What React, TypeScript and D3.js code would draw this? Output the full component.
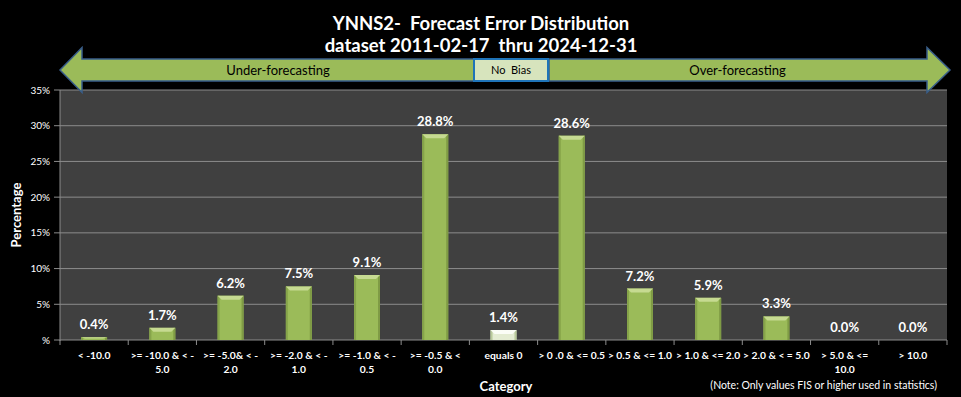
import * as d3 from "d3";

const WIDTH = 961;
const HEIGHT = 397;
const MARGIN = { top: 90, right: 14, bottom: 57, left: 60 };

// category names ("\n" = where the label wraps) and their percentages
const categories = [
  "< -10.0",
  ">= -10.0 & < -\n5.0",
  ">= -5.0& < -\n2.0",
  ">= -2.0 & < -\n1.0",
  ">= -1.0 & < -\n0.5",
  ">= -0.5 & <\n0.0",
  "equals 0",
  "> 0 .0 & <= 0.5",
  "> 0.5 & <= 1.0",
  "> 1.0 & <= 2.0",
  "> 2.0 & < = 5.0",
  "> 5.0 & <=\n10.0",
  "> 10.0",
];
const percentages = [0.4, 1.7, 6.2, 7.5, 9.1, 28.8, 1.4, 28.6, 7.2, 5.9, 3.3, 0.0, 0.0];
const yTicks = [0, 5, 10, 15, 20, 25, 30, 35];
const noBiasCategory = "equals 0";

const titleLines = ["YNNS2-  Forecast Error Distribution", "dataset 2011-02-17  thru 2024-12-31"];

const FONT = "Lato, 'Open Sans', sans-serif";
const GREEN = "#9bbb59";
const OUTLINE = "#385d8a";

// keep the double spaces of the original labels
const keepSpaces = (s: string) => s.replace(/  /g, " \u00a0");

const App = () => {
  const boundsWidth = WIDTH - MARGIN.left - MARGIN.right;
  const boundsHeight = HEIGHT - MARGIN.top - MARGIN.bottom;

  const xScale = d3.scaleBand().domain(categories).range([0, boundsWidth]).paddingInner(0.62).paddingOuter(0.31);
  const yScale = d3.scaleLinear().domain([0, 35]).range([boundsHeight, 0]);

  const step = xScale.step();
  const bw = xScale.bandwidth();

  // band edges for the little tick marks under the axis
  const edges = d3.range(categories.length + 1).map((i) => i * step);

  // arrows banner (drawn in page coordinates)
  const midY = 70;
  const shaftH = 22;
  const headH = 45;
  const leftTip = 60;
  const leftHeadBase = 82;
  const noBiasX0 = 474;
  const noBiasX1 = 548;
  const rightHeadBase = 927;
  const rightTip = 950;

  const leftArrow = [
    [leftTip, midY],
    [leftHeadBase, midY - headH / 2],
    [leftHeadBase, midY - shaftH / 2],
    [noBiasX0, midY - shaftH / 2],
    [noBiasX0, midY + shaftH / 2],
    [leftHeadBase, midY + shaftH / 2],
    [leftHeadBase, midY + headH / 2],
  ];
  const rightArrow = [
    [noBiasX1 + 1, midY - shaftH / 2],
    [rightHeadBase, midY - shaftH / 2],
    [rightHeadBase, midY - headH / 2],
    [rightTip, midY],
    [rightHeadBase, midY + headH / 2],
    [rightHeadBase, midY + shaftH / 2],
    [noBiasX1 + 1, midY + shaftH / 2],
  ];
  const poly = (pts: number[][]) => "M" + pts.map((p) => p.join(",")).join("L") + "Z";

  const bars = categories.map((cat, i) => {
    const v = percentages[i];
    const x = xScale(cat) ?? 0;
    const y = yScale(v);
    const h = boundsHeight - y;
    const pale = cat === noBiasCategory;
    const bevel = Math.min(4, h / 2);
    return (
      <g key={cat}>
        {h > 0.5 && (
          <g>
            <rect x={x} y={y} width={bw} height={h} fill={pale ? "#e4ecd2" : GREEN} />
            <rect x={x} y={y} width={2} height={h} fill={pale ? "#b9c99a" : "#86a44a"} />
            <rect x={x + bw - 2} y={y} width={2} height={h} fill={pale ? "#b9c99a" : "#7f9b45"} />
            <path
              d={`M${x},${y}L${x + bw},${y}L${x + bw - 4},${y + bevel}L${x + 4},${y + bevel}Z`}
              fill={pale ? "#fbfdf6" : "#c6da91"}
            />
          </g>
        )}
        <text
          x={x + bw / 2}
          y={y - 8}
          textAnchor="middle"
          fill="#ffffff"
          fontWeight="bold"
          fontSize={13}
        >
          {v.toFixed(1)}%
        </text>
      </g>
    );
  });

  return (
    <svg
      width={WIDTH}
      height={HEIGHT}
      style={{ position: "absolute", left: 0, top: 0, background: "#000", fontFamily: FONT }}
    >
      <rect width={WIDTH} height={HEIGHT} fill="#000" />
      {titleLines.map((t, i) => (
        <text key={t} x={481} y={30 + i * 22} textAnchor="middle" fill="#fff" fontWeight="bold" fontSize={18.5}>
          {keepSpaces(t)}
        </text>
      ))}

      <g transform={`translate(${MARGIN.left},${MARGIN.top})`}>
        <rect width={boundsWidth} height={boundsHeight} fill="#404040" />
        {yTicks.map((t) => (
          <g key={t}>
            <line x1={-6} x2={boundsWidth} y1={yScale(t)} y2={yScale(t)} stroke="#8c8c8c" strokeWidth={1} />
            <text x={-10} y={yScale(t)} dy="0.35em" textAnchor="end" fill="#fff" fontSize={10}>
              {t === 0 ? "%" : `${t}%`}
            </text>
          </g>
        ))}
        <line x1={0} x2={0} y1={0} y2={boundsHeight + 1} stroke="#8c8c8c" />
        {edges.map((e, i) => (
          <line key={i} x1={e} x2={e} y1={boundsHeight} y2={boundsHeight + 5} stroke="#8c8c8c" />
        ))}
        {bars}
        {categories.map((cat) => (
          <text
            key={cat}
            x={(xScale(cat) ?? 0) + bw / 2}
            y={boundsHeight + 19}
            textAnchor="middle"
            fill="#fff"
            fontWeight="bold"
            fontSize={10.3}
          >
            {cat.split("\n").map((line, j) => (
              <tspan key={j} x={(xScale(cat) ?? 0) + bw / 2} dy={j === 0 ? 0 : 14}>
                {line}
              </tspan>
            ))}
          </text>
        ))}
      </g>

      <text
        transform={`translate(21,${MARGIN.top + boundsHeight / 2}) rotate(-90)`}
        textAnchor="middle"
        fill="#fff"
        fontWeight="bold"
        fontSize={13}
      >
        Percentage
      </text>
      <text x={506} y={391} textAnchor="middle" fill="#fff" fontWeight="bold" fontSize={13}>
        Category
      </text>
      <text x={937} y={389} textAnchor="end" fill="#fff" fontSize={10.5}>
        (Note: Only values FIS or higher used in statistics)
      </text>

      <path d={poly(leftArrow)} fill={GREEN} stroke={OUTLINE} strokeWidth={1.5} />
      <path d={poly(rightArrow)} fill={GREEN} stroke={OUTLINE} strokeWidth={1.5} />
      <rect
        x={noBiasX0}
        y={midY - shaftH / 2}
        width={noBiasX1 - noBiasX0}
        height={shaftH}
        fill="#d7e4bd"
        stroke="#1f74b8"
        strokeWidth={2}
      />
      <text x={(leftHeadBase + noBiasX0) / 2} y={midY} dy="0.35em" textAnchor="middle" fill="#000" fontSize={13}>
        Under-forecasting
      </text>
      <text x={(noBiasX0 + noBiasX1) / 2} y={midY} dy="0.35em" textAnchor="middle" fill="#000" fontSize={11}>
        {keepSpaces("No  Bias")}
      </text>
      <text x={(noBiasX1 + rightHeadBase) / 2} y={midY} dy="0.35em" textAnchor="middle" fill="#000" fontSize={13}>
        Over-forecasting
      </text>
    </svg>
  );
};

export default App;
